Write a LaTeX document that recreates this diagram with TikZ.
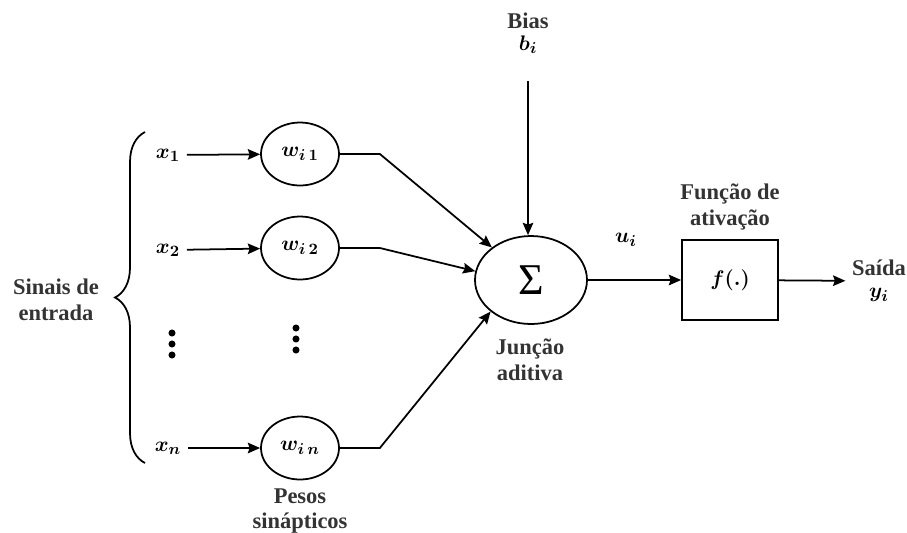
\documentclass[tikz,border=0pt]{standalone}
\usepackage{fontspec}
\setmainfont{Liberation Serif}[BoldFont={Liberation Serif Bold}]
\usetikzlibrary{shapes, arrows.meta, calc, positioning, decorations.pathreplacing}

\begin{document}
\begin{tikzpicture}[->,>={Stealth[length=7pt,width=6pt,inset=1pt]},line width=1pt,x=0.02cm,y=-0.02cm,
	font=\rmfamily\fontsize{12.8}{14.5}\selectfont\bfseries\boldmath]
	\tikzset{peso/.style={draw, ellipse, minimum width=1.56cm, minimum height=1.26cm, inner sep=0pt}}
	\tikzset{rotulo/.style={align=center, text=black!80}}
	\tikzset{ponto/.style={circle, fill, inner sep=0pt, minimum size=4pt}}
	\useasboundingbox (0,0) rectangle (907,532);
	% entradas e pesos
	\node (x1) at (168,155) {$x_1$};
	\node (x2) at (168,250) {$x_2$};
	\node (xn) at (168,448) {$x_n$};
	\node[peso] (w1) at (300,154) {$w_{i\,1}$};
	\node[peso] (w2) at (300,248) {$w_{i\,2}$};
	\node[peso] (wn) at (300,448) {$w_{i\,n}$};
	\foreach \k in {-1,0,1} {
		\node[ponto] (da\k) at (172,344+11*\k) {};
		\node[ponto] (db\k) at (296,339+11*\k) {};
	}
	\node[rotulo] (sinais) at (56,300) {Sinais de\\entrada};
	\node[rotulo] (pesos) at (300,511) {Pesos\\sinápticos};
	% somador e ativacao
	\node[draw, ellipse, minimum width=2.24cm, minimum height=1.76cm, inner sep=0pt] (sum) at (531,280)
		{\fontsize{25}{25}\selectfont\mdseries Σ};
	\node[rotulo] (juncao) at (530,360) {Junção\\aditiva};
	\node[rotulo] (bias) at (528,33) {Bias\\[-2pt]\textcolor{black}{$b_i$}};
	\node[draw, minimum width=1.92cm, minimum height=1.6cm] (act) at (730,280) {$f(.)$};
	\node[rotulo] (funcao) at (730,207) {Função de\\ativação};
	\node[rotulo] (saida) at (879,281) {Saída\\[-2pt]\textcolor{black}{$y_i$}};
	\node (ui) at (626,240) {$u_i$};

	\path
		(x1) edge (w1)
		(x2) edge (w2)
		(xn) edge (wn)
		(sum) edge (act)
		(act) edge (saida);
	\draw[shorten <=12pt] (bias.south) -- (bias.south |- sum.north);
	\draw (w1.east) -- ++(40,0) -- (sum);
	\draw (w2.east) -- ++(40,0) -- (sum.171);
	\draw (wn.east) -- ++(40,0) -- (sum.218);
	\draw[-, decorate, decoration={brace, amplitude=0.6cm}] (145,463) -- (145,132);
\end{tikzpicture}
\end{document}
